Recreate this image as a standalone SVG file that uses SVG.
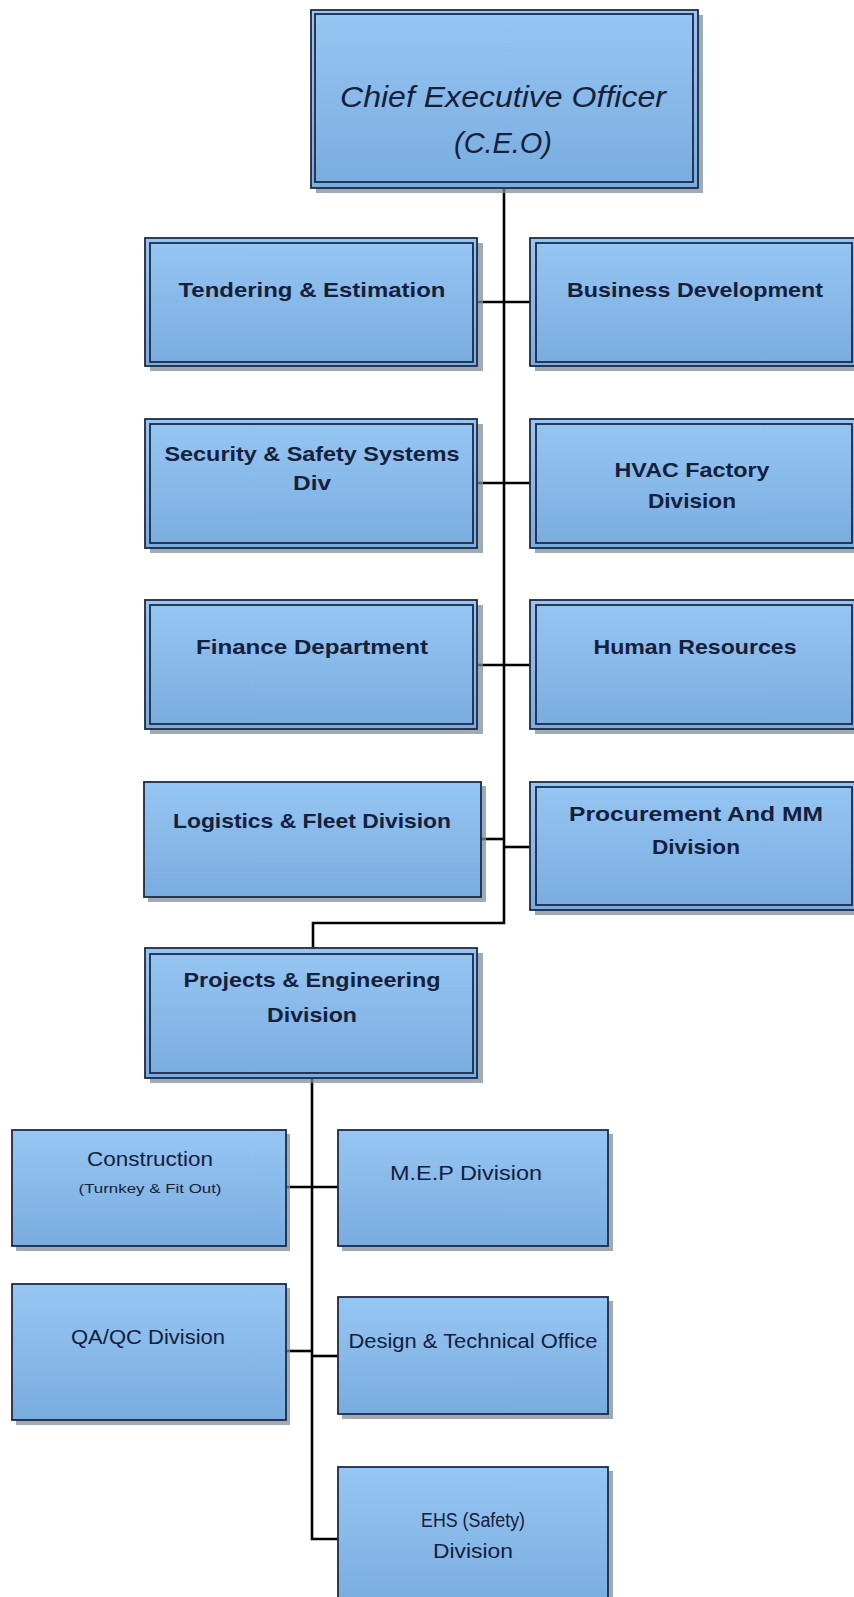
<svg xmlns="http://www.w3.org/2000/svg" width="854" height="1597" viewBox="0 0 854 1597">
<defs>
<linearGradient id="g" x1="0" y1="0" x2="0" y2="1">
<stop offset="0" stop-color="#96c6f3"/>
<stop offset="1" stop-color="#79acdf"/>
</linearGradient>
<style>
.sh{fill:#7f8e9a;opacity:0.75}
.bx{fill:url(#g);stroke:#1d2a45;stroke-width:1.8}
.in{fill:none;stroke:#1d2a45;stroke-width:1.8}
.b{font-family:"Liberation Sans",Arial,sans-serif;font-weight:bold;font-size:20.5px;fill:#15203a;text-anchor:middle}
.r{font-family:"Liberation Sans",Arial,sans-serif;font-size:19.5px;fill:#15203a;text-anchor:middle}
.ceo{font-family:"Liberation Sans",Arial,sans-serif;font-style:italic;font-size:29px;fill:#15203a;text-anchor:middle}
.ln{fill:none;stroke:#000;stroke-width:2.6}
</style>
</defs>
<rect width="854" height="1597" fill="#fff"/>

<g id="connectors">
<path class="ln" d="M504 188 V923 H313 V948"/>
<path class="ln" d="M477 302 H530"/>
<path class="ln" d="M477 483 H530"/>
<path class="ln" d="M477 665 H530"/>
<path class="ln" d="M481 839 H504"/>
<path class="ln" d="M504 847 H530"/>
<path class="ln" d="M312 1078 V1539 H338"/>
<path class="ln" d="M286 1187 H338"/>
<path class="ln" d="M286 1351 H312"/>
<path class="ln" d="M312 1356 H338"/>
</g>

<g id="ceo">
<rect class="sh" x="316" y="15" width="387" height="178"/>
<rect class="bx" x="311" y="10" width="387" height="178"/>
<rect class="in" x="315" y="14" width="378" height="168"/>
<text class="ceo" x="503" y="107" textLength="326" lengthAdjust="spacingAndGlyphs">Chief Executive Officer</text>
<text class="ceo" x="503" y="153" textLength="98" lengthAdjust="spacingAndGlyphs">(C.E.O)</text>
</g>

<g id="tendering">
<rect class="sh" x="150" y="243" width="333" height="128"/>
<rect class="bx" x="145" y="238" width="332" height="128"/>
<rect class="in" x="150" y="243" width="323" height="119"/>
<text class="b" x="312" y="297" textLength="267" lengthAdjust="spacingAndGlyphs">Tendering &amp; Estimation</text>
</g>

<g id="business">
<rect class="sh" x="535" y="243" width="330" height="128"/>
<rect class="bx" x="530" y="238" width="330" height="128"/>
<rect class="in" x="536" y="243" width="316" height="119"/>
<text class="b" x="695" y="297" textLength="256" lengthAdjust="spacingAndGlyphs">Business Development</text>
</g>

<g id="security">
<rect class="sh" x="150" y="424" width="333" height="129"/>
<rect class="bx" x="145" y="419" width="332" height="129"/>
<rect class="in" x="150" y="424" width="323" height="119"/>
<text class="b" x="312" y="461" textLength="295" lengthAdjust="spacingAndGlyphs">Security &amp; Safety Systems</text>
<text class="b" x="312" y="490" textLength="38" lengthAdjust="spacingAndGlyphs">Div</text>
</g>

<g id="hvac">
<rect class="sh" x="535" y="424" width="330" height="129"/>
<rect class="bx" x="530" y="419" width="330" height="129"/>
<rect class="in" x="536" y="424" width="316" height="119"/>
<text class="b" x="692" y="477" textLength="155" lengthAdjust="spacingAndGlyphs">HVAC Factory</text>
<text class="b" x="692" y="508" textLength="88" lengthAdjust="spacingAndGlyphs">Division</text>
</g>

<g id="finance">
<rect class="sh" x="150" y="605" width="333" height="129"/>
<rect class="bx" x="145" y="600" width="332" height="129"/>
<rect class="in" x="150" y="605" width="323" height="119"/>
<text class="b" x="312" y="654" textLength="232" lengthAdjust="spacingAndGlyphs">Finance Department</text>
</g>

<g id="hr">
<rect class="sh" x="535" y="605" width="330" height="129"/>
<rect class="bx" x="530" y="600" width="330" height="129"/>
<rect class="in" x="536" y="605" width="316" height="119"/>
<text class="b" x="695" y="654" textLength="203" lengthAdjust="spacingAndGlyphs">Human Resources</text>
</g>

<g id="logistics">
<rect class="sh" x="148" y="786" width="338" height="116"/>
<rect class="bx" x="144" y="782" width="337" height="115"/>
<text class="b" x="312" y="828" textLength="278" lengthAdjust="spacingAndGlyphs">Logistics &amp; Fleet Division</text>
</g>

<g id="procurement">
<rect class="sh" x="535" y="787" width="330" height="128"/>
<rect class="bx" x="530" y="782" width="330" height="128"/>
<rect class="in" x="536" y="787" width="316" height="118"/>
<text class="b" x="696" y="821" textLength="254" lengthAdjust="spacingAndGlyphs">Procurement And MM</text>
<text class="b" x="696" y="854" textLength="88" lengthAdjust="spacingAndGlyphs">Division</text>
</g>

<g id="projects">
<rect class="sh" x="150" y="953" width="333" height="130"/>
<rect class="bx" x="145" y="948" width="332" height="130"/>
<rect class="in" x="150" y="954" width="323" height="119"/>
<text class="b" x="312" y="987" textLength="257" lengthAdjust="spacingAndGlyphs">Projects &amp; Engineering</text>
<text class="b" x="312" y="1022" textLength="90" lengthAdjust="spacingAndGlyphs">Division</text>
</g>

<g id="construction">
<rect class="sh" x="16" y="1134" width="274" height="117"/>
<rect class="bx" x="12" y="1130" width="274" height="116"/>
<text class="r" x="150" y="1166" textLength="126" lengthAdjust="spacingAndGlyphs">Construction</text>
<text class="r" x="150" y="1193" style="font-size:12px" textLength="143" lengthAdjust="spacingAndGlyphs">(Turnkey &amp; Fit Out)</text>
</g>

<g id="mep">
<rect class="sh" x="342" y="1134" width="271" height="117"/>
<rect class="bx" x="338" y="1130" width="270" height="116"/>
<text class="r" x="466" y="1180" textLength="152" lengthAdjust="spacingAndGlyphs">M.E.P Division</text>
</g>

<g id="qaqc">
<rect class="sh" x="16" y="1288" width="274" height="137"/>
<rect class="bx" x="12" y="1284" width="274" height="136"/>
<text class="r" x="148" y="1344" textLength="154" lengthAdjust="spacingAndGlyphs">QA/QC Division</text>
</g>

<g id="design">
<rect class="sh" x="342" y="1301" width="271" height="118"/>
<rect class="bx" x="338" y="1297" width="270" height="117"/>
<text class="r" x="473" y="1348" textLength="249" lengthAdjust="spacingAndGlyphs">Design &amp; Technical Office</text>
</g>

<g id="ehs">
<rect class="sh" x="342" y="1471" width="271" height="140"/>
<rect class="bx" x="338" y="1467" width="270" height="140"/>
<text class="r" x="473" y="1527" textLength="104" lengthAdjust="spacingAndGlyphs">EHS (Safety)</text>
<text class="r" x="473" y="1558" textLength="80" lengthAdjust="spacingAndGlyphs">Division</text>
</g>
</svg>
